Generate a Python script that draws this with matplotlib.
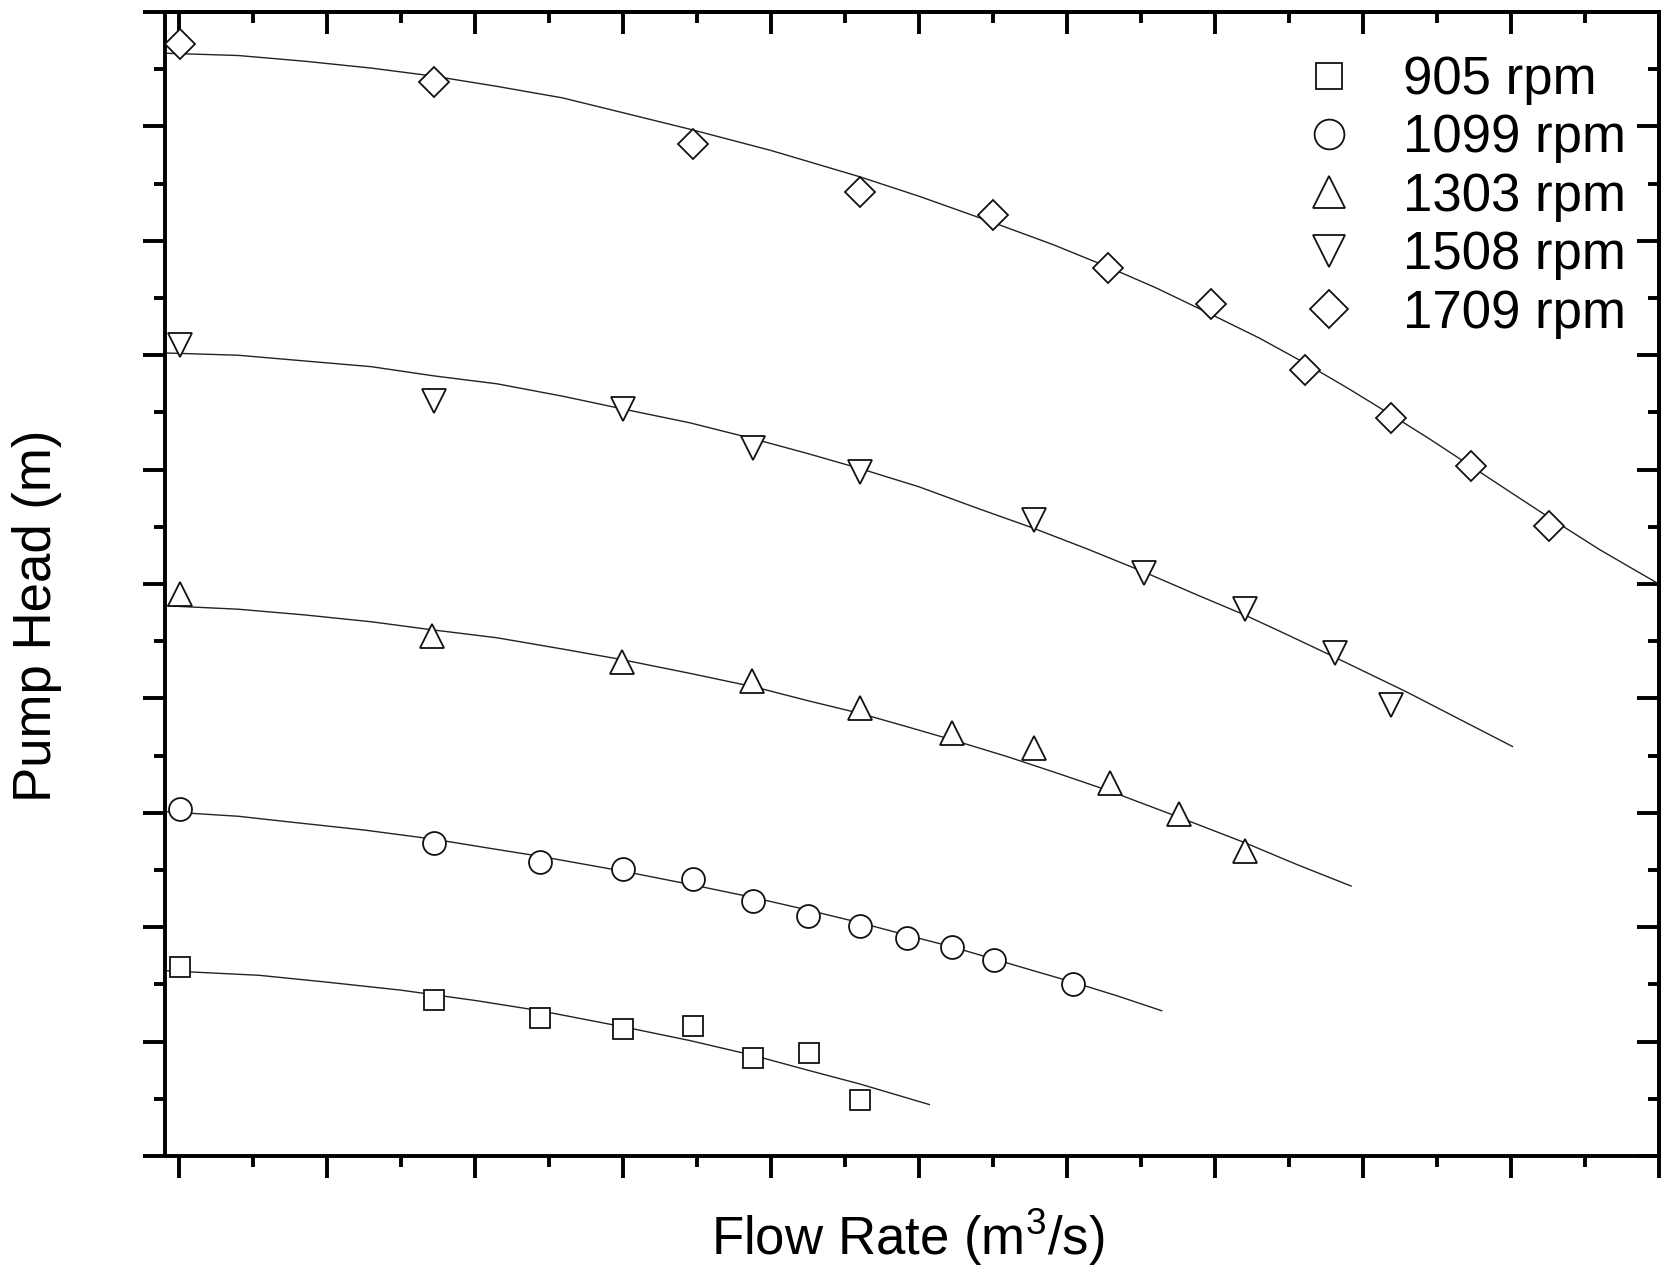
import matplotlib
matplotlib.use('Agg')
import matplotlib.pyplot as plt
from matplotlib.ticker import MultipleLocator

plt.rcParams['font.family'] = ['Liberation Sans', 'DejaVu Sans']
plt.rcParams['mathtext.default'] = 'regular'

# measured points (flow rate, head) - axis has no numbers, units are tick steps
q_905 = [0.01, 1.72, 2.44, 3.00, 3.47, 3.88, 4.26, 4.60]
h_905 = [1.65, 1.36, 1.21, 1.11, 1.14, 0.86, 0.90, 0.49]

q_1099 = [0.01, 1.72, 2.44, 3.00, 3.47, 3.88, 4.25, 4.60, 4.92, 5.22, 5.51, 6.04]
h_1099 = [3.03, 2.74, 2.57, 2.51, 2.42, 2.23, 2.10, 2.01, 1.91, 1.83, 1.71, 1.50]

q_1303 = [0.01, 1.71, 2.99, 3.87, 4.60, 5.22, 5.78, 6.29, 6.76, 7.20]
h_1303 = [4.91, 4.55, 4.32, 4.15, 3.92, 3.70, 3.57, 3.26, 2.99, 2.67]

q_1508 = [0.01, 1.72, 3.00, 3.88, 4.60, 5.78, 6.52, 7.20, 7.81, 8.19]
h_1508 = [7.09, 6.60, 6.53, 6.19, 5.98, 5.56, 5.10, 4.78, 4.40, 3.94]

q_1709 = [0.01, 1.72, 3.47, 4.60, 5.50, 6.28, 6.97, 7.61, 8.19, 8.73, 9.26]
h_1709 = [9.72, 9.39, 8.85, 8.43, 8.23, 7.76, 7.45, 6.87, 6.45, 6.03, 5.51]

# fitted curves
fq_905 = [-0.09, 0.54, 1.0, 1.5, 2.0, 2.44, 3.0, 3.45, 3.88, 4.25, 4.6, 5.07]
fh_905 = [1.62, 1.58, 1.52, 1.45, 1.36, 1.27, 1.13, 1.01, 0.88, 0.75, 0.63, 0.45]

fq_1099 = [-0.09, 0.4, 0.75, 1.25, 1.72, 2.1, 2.44, 3.0, 3.47, 3.88, 4.25, 4.6,
           4.92, 5.22, 5.51, 5.8, 6.04, 6.34, 6.64]
fh_1099 = [3.01, 2.97, 2.92, 2.85, 2.77, 2.69, 2.62, 2.49, 2.37, 2.26, 2.15, 2.04,
           1.93, 1.83, 1.72, 1.61, 1.52, 1.40, 1.27]

fq_1303 = [-0.09, 0.4, 0.85, 1.3, 1.71, 2.15, 2.6, 2.99, 3.45, 3.89, 4.25, 4.6,
           4.9, 5.22, 5.6, 5.95, 6.29, 6.76, 7.2, 7.55, 7.92]
fh_1303 = [4.81, 4.78, 4.73, 4.67, 4.60, 4.53, 4.43, 4.34, 4.22, 4.10, 3.98, 3.87,
           3.76, 3.64, 3.49, 3.34, 3.19, 2.96, 2.74, 2.55, 2.36]

fq_1508 = [-0.09, 0.4, 0.85, 1.3, 1.72, 2.15, 2.6, 3.0, 3.45, 3.88, 4.25, 4.6, 5.0,
           5.4, 5.77, 6.15, 6.53, 6.87, 7.2, 7.5, 7.81, 8.05, 8.29, 8.65, 9.01]
fh_1508 = [7.02, 7.00, 6.95, 6.90, 6.82, 6.75, 6.64, 6.53, 6.41, 6.27, 6.14, 6.01, 5.85,
           5.66, 5.49, 5.30, 5.10, 4.91, 4.73, 4.55, 4.36, 4.21, 4.06, 3.82, 3.58]

fq_1709 = [-0.09, 0.4, 0.85, 1.3, 1.72, 2.15, 2.59, 3.0, 3.47, 4.0, 4.6, 5.0, 5.5,
           5.9, 6.28, 6.6, 6.97, 7.3, 7.61, 7.9, 8.19, 8.46, 8.73, 9.0, 9.26, 9.6, 10.0]
fh_1709 = [9.64, 9.62, 9.57, 9.51, 9.44, 9.35, 9.25, 9.12, 8.97, 8.79, 8.56, 8.39, 8.16,
           7.97, 7.77, 7.59, 7.36, 7.15, 6.93, 6.71, 6.48, 6.26, 6.03, 5.80, 5.58, 5.30, 5.00]

labels = ['905 rpm', '1099 rpm', '1303 rpm', '1508 rpm', '1709 rpm']
markers = ['s', 'o', '^', 'v', 'D']
sizes = [14.5, 16.5, 17.5, 17.5, 15.0]

pts = [(q_905, h_905), (q_1099, h_1099), (q_1303, h_1303), (q_1508, h_1508), (q_1709, h_1709)]
fits = [(fq_905, fh_905), (fq_1099, fh_1099), (fq_1303, fh_1303), (fq_1508, fh_1508), (fq_1709, fh_1709)]

fig = plt.figure(figsize=(16.71, 12.68), dpi=100)
ax = fig.add_axes([0.0987, 0.0883, 0.8941, 0.9022])

for (fx, fy) in fits:
    ax.plot(fx, fy, '-', color='#222222', lw=1.0, zorder=2)

for (x, y), m, s, lab in zip(pts, markers, sizes, labels):
    ax.plot(x, y, linestyle='none', marker=m, ms=s, mfc='white', mec='#111111',
            mew=1.3, label=lab, zorder=3)

ax.set_xlim(-0.095, 10)
ax.set_ylim(0, 10)

for loc_ax in (ax.xaxis, ax.yaxis):
    loc_ax.set_major_locator(MultipleLocator(1))
    loc_ax.set_minor_locator(MultipleLocator(0.5))

ax.tick_params(which='both', direction='out', width=2.8, labelbottom=False, labelleft=False)
ax.tick_params(which='major', length=16)
ax.tick_params(which='minor', length=8)
for sp in ax.spines.values():
    sp.set_linewidth(2.8)

# top and right ticks point inwards
top = ax.secondary_xaxis('top')
top.xaxis.set_major_locator(MultipleLocator(1))
top.xaxis.set_minor_locator(MultipleLocator(0.5))
top.tick_params(which='both', direction='in', width=2.8, labeltop=False)
top.tick_params(which='major', length=16)
top.tick_params(which='minor', length=8)
right = ax.secondary_yaxis('right')
right.yaxis.set_major_locator(MultipleLocator(1))
right.yaxis.set_minor_locator(MultipleLocator(0.5))
right.tick_params(which='both', direction='in', width=2.8, labelright=False)
right.tick_params(which='major', length=16)
right.tick_params(which='minor', length=8)
for sec in (top, right):
    for sp in sec.spines.values():
        sp.set_linewidth(2.8)

fig.text(908 / 1671, 1 - 1255 / 1268, 'Flow Rate (m$^{3}$/s)', fontsize=38,
         ha='center', va='baseline')
fig.text(37 / 1671, 1 - 616 / 1268, 'Pump Head (m)', fontsize=38,
         ha='center', va='center', rotation=90)

ax.legend(loc='upper left', bbox_to_anchor=(1308 / 1671, 1 - 55 / 1268),
          bbox_transform=fig.transFigure, frameon=False, fontsize=38,
          markerscale=1.3, handlelength=0.8, handletextpad=1.0,
          labelspacing=0.16, borderpad=0, borderaxespad=0)

fig.savefig('out.png', dpi=100)
